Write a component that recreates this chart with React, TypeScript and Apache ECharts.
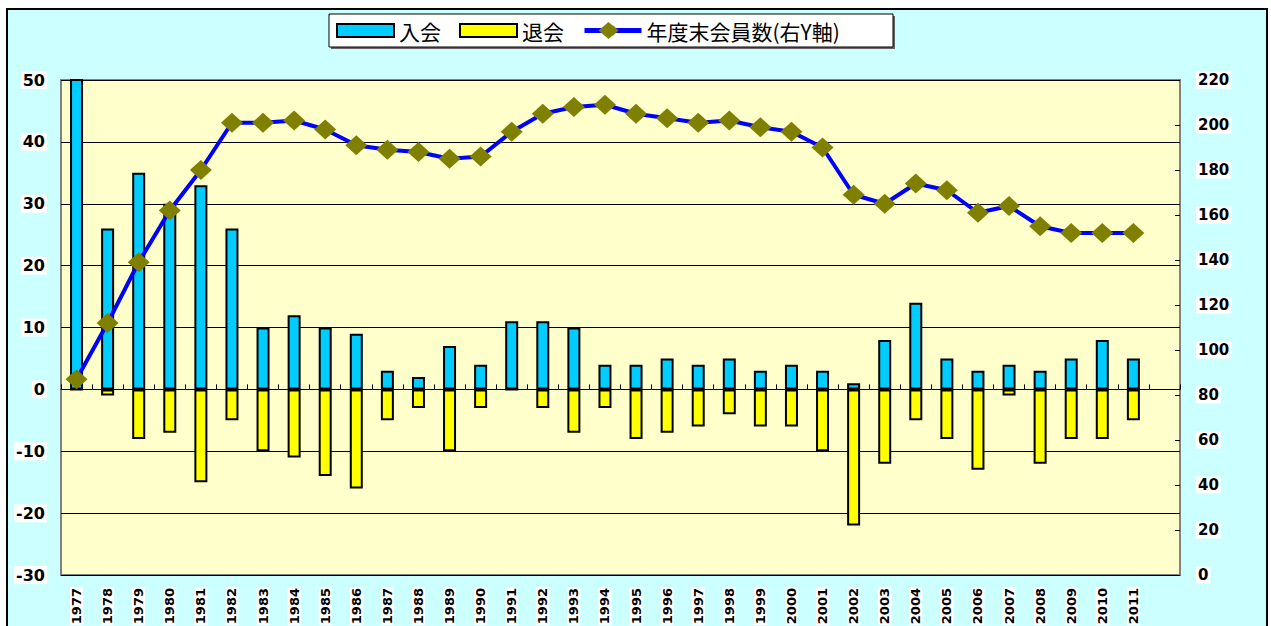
import React, { useEffect, useRef } from "react";
import * as echarts from "echarts";

const years: string[] = [
  "1977", "1978", "1979", "1980", "1981", "1982", "1983", "1984", "1985", "1986",
  "1987", "1988", "1989", "1990", "1991", "1992", "1993", "1994", "1995", "1996",
  "1997", "1998", "1999", "2000", "2001", "2002", "2003", "2004", "2005", "2006",
  "2007", "2008", "2009", "2010", "2011", "",
];

const joined: number[] = [
  87, 26, 35, 30, 33, 26, 10, 12, 10, 9,
  3, 2, 7, 4, 11, 11, 10, 4, 4, 5,
  4, 5, 3, 4, 3, 1, 8, 14, 5, 3,
  4, 3, 5, 8, 5,
];

const left: number[] = [
  0, -1, -8, -7, -15, -5, -10, -11, -14, -16,
  -5, -3, -10, -3, 0, -3, -7, -3, -8, -7,
  -6, -4, -6, -6, -10, -22, -12, -5, -8, -13,
  -1, -12, -8, -8, -5,
];

const members: number[] = [
  87, 112, 139, 162, 180, 201, 201, 202, 198, 191,
  189, 188, 185, 186, 197, 205, 208, 209, 205, 203,
  201, 202, 199, 197, 190, 169, 165, 174, 171, 161,
  164, 155, 152, 152, 152,
];

const leftTicks = { min: -30, max: 50, interval: 10 };
const rightTicks = { min: 0, max: 220, interval: 20 };

const labelFont = {
  fontFamily: "DejaVu Sans",
  fontWeight: "bold" as const,
  color: "#000",
  backgroundColor: "#fff",
};

export default function App() {
  const ref = useRef<HTMLDivElement>(null);
  useEffect(() => {
    if (!ref.current) return;
    const chart = echarts.init(ref.current, null, { renderer: "svg" });
    chart.setOption({
      animation: false,
      backgroundColor: "#ffffff",
      graphic: [
        {
          type: "rect",
          z: -10,
          shape: { x: 7, y: 9, width: 1260, height: 640 },
          style: { fill: "#CCFFFF", stroke: "#000", lineWidth: 2 },
        },
        {
          type: "rect",
          z: 1,
          shape: { x: 331, y: 16, width: 564, height: 33 },
          style: { fill: "#666", stroke: "none" },
        },
        {
          type: "rect",
          z: 2,
          shape: { x: 329, y: 14, width: 564, height: 33 },
          style: { fill: "#fff", stroke: "#000", lineWidth: 1 },
        },
        {
          type: "polygon",
          z: 20,
          shape: {
            points: [
              [608.5, 22],
              [618.5, 30.5],
              [608.5, 39],
              [598.5, 30.5],
            ],
          },
          style: { fill: "#808000" },
        },
      ],
      legend: {
        z: 10,
        left: 336,
        top: 20,
        padding: 0,
        itemGap: 18,
        itemWidth: 57,
        itemHeight: 13,
        textStyle: {
          fontFamily: "Noto Sans CJK JP",
          fontSize: 21,
          color: "#000",
        },
        data: [
          { name: "入会", icon: "rect" },
          { name: "退会", icon: "rect" },
          {
            name: "年度末会員数(右Y軸)",
            lineStyle: { color: "#0000FF", width: 5 },
          },
        ],
      },
      grid: {
        left: 61,
        top: 80,
        right: 91,
        bottom: 51,
        outerBoundsMode: "none",
        containLabel: false,
        show: true,
        backgroundColor: "#FFFFCC",
        borderColor: "#808080",
        borderWidth: 2,
      },
      xAxis: [
        {
          type: "category",
          data: years,
          axisLine: { show: false, onZero: false },
          axisTick: { show: false },
          axisLabel: {
            ...labelFont,
            rotate: 90,
            fontSize: 13,
            margin: 12,
            interval: 0,
            padding: [0, 1],
          },
        },
        {
          type: "category",
          data: years,
          position: "bottom",
          axisLine: {
            show: true,
            onZero: true,
            onZeroAxisIndex: 0,
            lineStyle: { color: "#000", width: 1 },
          },
          axisTick: {
            show: true,
            inside: true,
            length: 5,
            interval: 0,
            lineStyle: { color: "#000", width: 1 },
          },
          axisLabel: { show: false },
          splitLine: { show: false },
        },
      ],
      yAxis: [
        {
          type: "value",
          ...leftTicks,
          position: "left",
          axisLine: { show: false },
          axisTick: { show: false },
          splitLine: { show: true, lineStyle: { color: "#000", width: 1 } },
          axisLabel: { ...labelFont, fontSize: 16, margin: 14, padding: [1, 2] },
        },
        {
          type: "value",
          ...rightTicks,
          position: "right",
          axisLine: { show: false },
          axisTick: {
            show: true,
            inside: true,
            length: 5,
            lineStyle: { color: "#000", width: 1 },
          },
          splitLine: { show: false },
          axisLabel: { ...labelFont, fontSize: 15, margin: 16, padding: [1, 2] },
        },
      ],
      series: [
        {
          name: "入会",
          type: "bar",
          xAxisIndex: 0,
          yAxisIndex: 0,
          data: joined,
          barWidth: 13,
          barGap: "-100%",
          clip: true,
          itemStyle: { color: "#00CCFF", borderColor: "#000", borderWidth: 2 },
          z: 3,
        },
        {
          name: "退会",
          type: "bar",
          xAxisIndex: 0,
          yAxisIndex: 0,
          data: left,
          barWidth: 13,
          barGap: "-100%",
          itemStyle: { color: "#FFFF00", borderColor: "#000", borderWidth: 2 },
          z: 3,
        },
        {
          name: "年度末会員数(右Y軸)",
          type: "line",
          xAxisIndex: 0,
          yAxisIndex: 1,
          data: members,
          symbol: "diamond",
          symbolSize: [22, 20],
          lineStyle: { color: "#0000FF", width: 4 },
          itemStyle: { color: "#808000" },
          z: 5,
        },
      ],
    });
    return () => chart.dispose();
  }, []);
  return (
    <div
      ref={ref}
      style={{ position: "absolute", left: 0, top: 0, width: 1271, height: 626 }}
    />
  );
}
